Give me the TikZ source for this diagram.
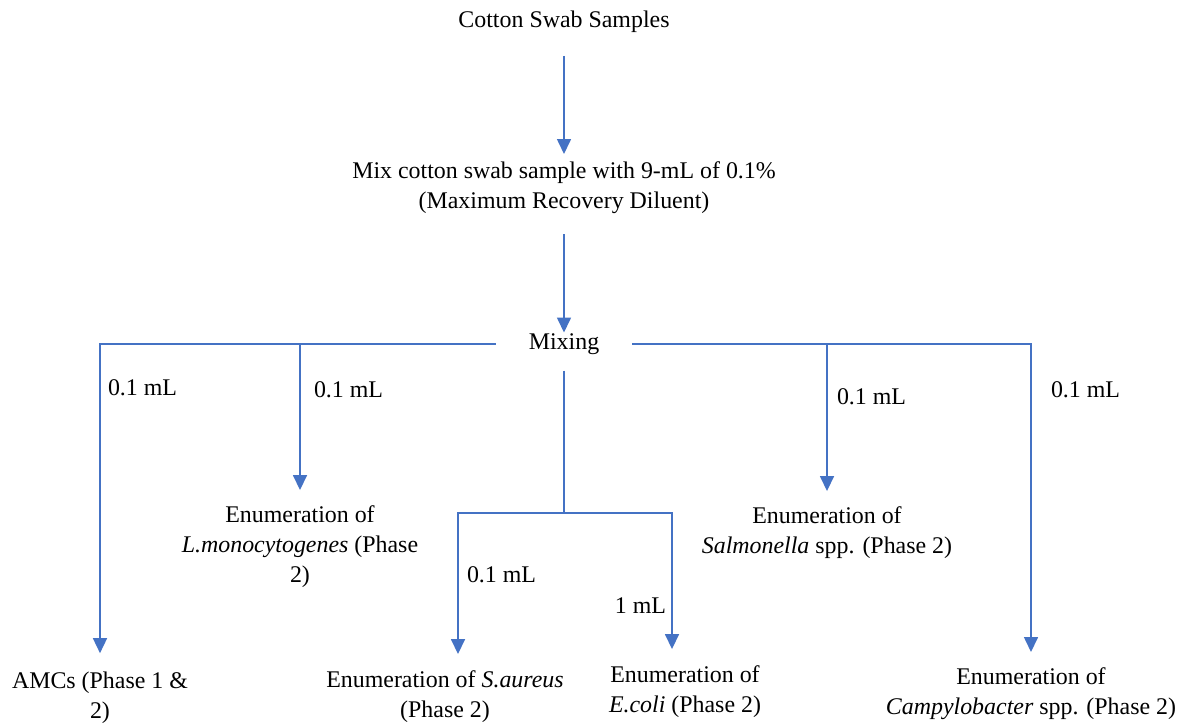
\documentclass[tikz,border=0pt]{standalone}
\usepackage{fontspec}
\setmainfont{Liberation Serif}
\usetikzlibrary{arrows.meta}
\definecolor{lineblue}{HTML}{4472C4}
\begin{document}
\begin{tikzpicture}[x=1pt,y=-1pt,
  every node/.style={inner sep=0pt, outer sep=0pt, font=\fontsize{23.9}{30}\selectfont, text=black},
  txt/.style={align=center},
  lab/.style={anchor=west},
  conn/.style={draw=lineblue, line width=1.6pt},
  arr/.style={conn, -{Triangle[length=15pt,width=14pt]}},
]
\useasboundingbox (0,0) rectangle (1191,724);

% nodes
\node[txt] (cotton) at (564,22) {Cotton Swab Samples};
\node[txt] (mix) at (564,188) {Mix cotton swab sample with 9-mL of 0.1\%\\(Maximum Recovery Diluent)};
\node[txt] (mixing) at (564,344) {Mixing};
\node[txt] (amc) at (100,698) {AMCs (Phase 1 \&\\2)};
\node[txt] (lmono) at (300,547) {Enumeration of\\\textit{L.monocytogenes} (Phase\\2)};
\node[txt] (saur) at (445,697) {Enumeration of \textit{S.aureus}\\(Phase 2)};
\node[txt] (ecoli) at (685,692) {Enumeration of\\\textit{E.coli} (Phase 2)};
\node[txt] (salm) at (827,533) {Enumeration of\\\textit{Salmonella} spp. (Phase 2)};
\node[txt] (campy) at (1031,694) {Enumeration of\\\textit{Campylobacter} spp. (Phase 2)};

% volume labels
\node[lab] (v1) at (108,388) {0.1 mL};
\node[lab] (v2) at (314,390) {0.1 mL};
\node[lab] (v3) at (837,397) {0.1 mL};
\node[lab] (v4) at (1051,390) {0.1 mL};
\node[lab] (v5) at (467,575) {0.1 mL};
\node[anchor=east] (v6) at (666,606) {1 mL};

% junction coordinates
\coordinate (split) at (564,513);
\coordinate (sl) at (458,513);
\coordinate (sr) at (672,513);

% connectors
\draw[arr, shorten <=23pt, shorten >=8pt] (cotton.south) -- (mix.north);
\draw[arr, shorten <=20pt, shorten >=1pt] (mix.south) -- (mixing.north);

\draw[arr, shorten >=19pt] ([xshift=-33pt]mixing.west) -| (amc.north);
\draw[arr, shorten >=16pt] (mixing.west -| lmono.north) -- (lmono.north);
\draw[arr, shorten >=16pt] ([xshift=33pt]mixing.east) -| (campy.north);
\draw[arr, shorten >=16pt] (mixing.east -| salm.north) -- (salm.north);

\draw[conn, shorten <=16pt] (mixing.south) -- (split);
\draw[arr, shorten >=17pt] (split) -- (sl) -- (sl |- saur.north);
\draw[arr, shorten >=17pt] (split) -- (sr) -- (sr |- ecoli.north);
\end{tikzpicture}
\end{document}
